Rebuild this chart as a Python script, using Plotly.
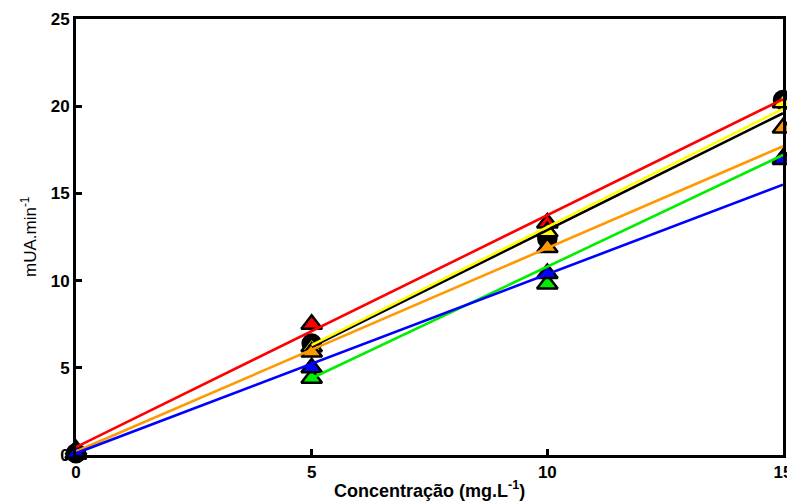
import plotly.graph_objects as go

conc = [0, 5, 10, 15]

# measured points (mUA/min)
red_pts = [0.3, 7.5, 13.3, 20.3]
black_pts = [0.1, 6.4, 12.4, 20.35]
yellow_pts = [0.1, 6.2, 12.8, 20.2]
orange_pts = [0.1, 5.9, 11.9, 18.75]
green_pts = [0.05, 4.4, 9.8, 17.0]
blue_pts = [0.1, 5.0, 10.4, 16.95]

# fitted lines (endpoints)
red_fit_x, red_fit_y = [0, 15], [0.45, 20.4]
yellow_fit_x, yellow_fit_y = [5, 15], [6.3, 19.85]
black_fit_x, black_fit_y = [5, 15], [6.2, 19.6]
orange_fit_x, orange_fit_y = [0, 15], [0.2, 17.7]
green_fit_x, green_fit_y = [5, 15], [4.4, 17.2]
blue_fit_x, blue_fit_y = [0, 15], [0.1, 15.5]

x_ticks = [0, 5, 10, 15]
y_ticks = [0, 5, 10, 15, 20, 25]

FONT = "Liberation Sans, Arial"

fig = go.Figure()

def markers(y, color, symbol="triangle-up"):
    fig.add_trace(go.Scatter(
        x=conc, y=y, mode="markers", cliponaxis=False, showlegend=False,
        marker=dict(symbol=symbol, size=18, color=color,
                    line=dict(color="black", width=2.5))))

def line(x, y, color):
    fig.add_trace(go.Scatter(
        x=x, y=y, mode="lines", cliponaxis=False, showlegend=False,
        line=dict(color=color, width=2.6)))

markers(red_pts, "#ff0000")
markers(black_pts, "#000000", "circle")
markers(yellow_pts, "#ffff00")
markers(orange_pts, "#ff9900")
markers(green_pts, "#00ee00")
markers(blue_pts, "#0000ff")

line(red_fit_x, red_fit_y, "#ff0000")
line(black_fit_x, black_fit_y, "#000000")
line(yellow_fit_x, yellow_fit_y, "#ffff00")
line(orange_fit_x, orange_fit_y, "#ff9900")
line(green_fit_x, green_fit_y, "#00ee00")
line(blue_fit_x, blue_fit_y, "#0000ff")

axis_common = dict(
    showgrid=False, zeroline=False, showline=True, linecolor="black",
    linewidth=3, mirror=True, ticks="inside", ticklen=6, tickwidth=2.5,
    tickcolor="black", automargin=False,
    tickfont=dict(family=FONT, size=17, color="black", weight="bold"),
)

# page body has an 8px margin, so the figure is sized/offset to compensate
fig.update_layout(
    width=787, height=496,
    margin=dict(l=68, r=12, t=11, b=49),
    paper_bgcolor="white", plot_bgcolor="white",
    xaxis=dict(range=[0, 15], tickvals=x_ticks, ticktext=[str(v) for v in x_ticks],
               **axis_common),
    yaxis=dict(range=[0, 25], tickvals=y_ticks, ticktext=[str(v) for v in y_ticks],
               **axis_common),
    annotations=[
        dict(text="<b>Concentração (mg.L<sup>-1</sup>)</b>", xref="paper", yref="paper",
             x=0.5, y=0, xanchor="center", yanchor="top", yshift=-21, showarrow=False,
             font=dict(family=FONT, size=18, color="black")),
        dict(text="mUA.min<sup>-1</sup>", xref="paper", yref="paper",
             x=0, y=0.5, xanchor="center", yanchor="middle", xshift=-47,
             textangle=-90, showarrow=False,
             font=dict(family=FONT, size=17, color="black")),
    ],
)

fig.write_html("out.html")
